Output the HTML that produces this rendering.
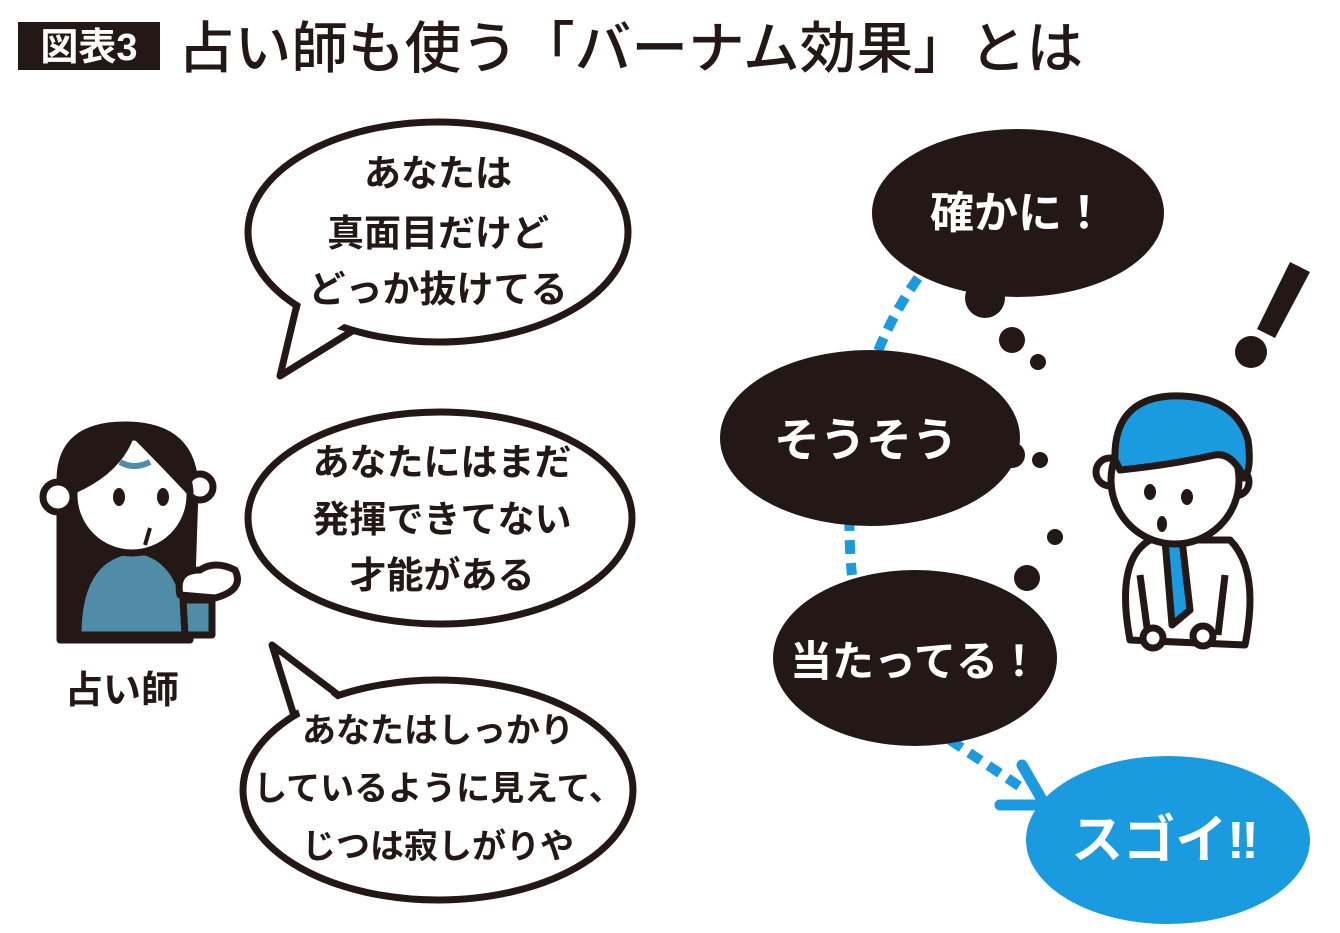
<!DOCTYPE html>
<html><head><meta charset="utf-8"><style>
html,body{margin:0;padding:0;background:#fff;}
svg{display:block;font-family:"Liberation Sans","Noto Sans CJK JP",sans-serif;}
</style></head><body>
<svg width="1340" height="933" viewBox="0 0 1340 933" xmlns="http://www.w3.org/2000/svg">
<rect x="18" y="22" width="142" height="48" fill="#231815"/>
<text x="89" y="60" font-size="38" font-weight="bold" fill="#fff" text-anchor="middle">図表3</text>
<text x="178" y="68" font-size="56" fill="#231815" font-weight="500" textLength="905" lengthAdjust="spacingAndGlyphs">占い師も使う「バーナム効果」とは</text>

<!-- dashed blue path -->
<path d="M918,278 Q860,360 850,470 Q848,540 852,575" fill="none" stroke="#1a9be0" stroke-width="10" stroke-dasharray="14,9"/>
<path d="M950,740 L1025,790" fill="none" stroke="#1a9be0" stroke-width="10" stroke-dasharray="14,9"/>
<path d="M1045,805 L1022,765 M1045,805 L1000,805" stroke="#1a9be0" stroke-width="11" stroke-linecap="round" fill="none"/>

<!-- white bubbles -->
<g fill="#fff" stroke="#231815" stroke-width="7" stroke-linejoin="round">
<polygon points="298,300 280,376 370,320"/>
<ellipse cx="438" cy="232" rx="190" ry="110"/>
<ellipse cx="440" cy="518" rx="192" ry="106"/>
<polygon points="300,735 272,645 345,700"/>
<ellipse cx="438" cy="790" rx="195" ry="110"/>
</g>
<g fill="#fff">
<polygon points="303,295 287,362 362,312"/>
<polygon points="305,730 280,655 338,700"/>
</g>
<g font-size="37" font-weight="bold" fill="#231815" text-anchor="middle">
<text x="438" y="186">あなたは</text>
<text x="438" y="246">真面目だけど</text>
<text x="438" y="302">どっか抜けてる</text>
<text x="442" y="475">あなたにはまだ</text>
<text x="442" y="532">発揮できてない</text>
<text x="442" y="588">才能がある</text>
</g>
<g font-size="34" font-weight="bold" fill="#231815" text-anchor="middle">
<text x="438" y="742">あなたはしっかり</text>
<text x="438" y="800">しているように見えて、</text>
<text x="438" y="858">じつは寂しがりや</text>
</g>

<!-- black bubbles -->
<g fill="#231815">
<ellipse cx="1018" cy="213" rx="146" ry="84"/>
<circle cx="985" cy="298" r="20"/>
<circle cx="1012" cy="340" r="13"/>
<circle cx="1038" cy="362" r="8"/>
<ellipse cx="870" cy="438" rx="150" ry="88"/>
<circle cx="1012" cy="455" r="13"/>
<circle cx="1040" cy="460" r="8"/>
<circle cx="1055" cy="537" r="8"/>
<ellipse cx="915" cy="658" rx="142" ry="88"/>
<circle cx="1027" cy="578" r="13"/>
</g>
<ellipse cx="1168" cy="840" rx="142" ry="84" fill="#1a9be0"/>
<g font-weight="bold" fill="#fff" text-anchor="middle">
<text x="1018" y="228" font-size="44">確かに！</text>
<text x="866" y="456" font-size="46">そうそう</text>
<text x="915" y="676" font-size="42">当たってる！</text>
<text x="1165" y="858" font-size="52">スゴイ‼</text>
</g>

<!-- exclamation -->
<polygon points="1290,262 1310,272 1275,338 1257,329" fill="#231815"/>
<circle cx="1251" cy="352" r="16" fill="#231815"/>

<!-- fortune teller -->
<g stroke="#231815" stroke-width="7" stroke-linejoin="round">
<path d="M60,640 L60,480 Q60,425 125,425 Q195,425 195,490 L190,640 Z" fill="#231815"/>
<circle cx="58" cy="497" r="15" fill="#fff"/>
<circle cx="200" cy="487" r="13" fill="#fff"/>
<path d="M78,635 Q78,555 135,550 Q185,555 190,635 Z" fill="#4f8ca7"/>
<circle cx="132" cy="495" r="58" fill="#fff"/>
<path d="M74,490 Q80,435 132,432 Q120,470 74,490 Z" fill="#231815"/>
<path d="M132,432 Q185,440 190,492 Q160,460 132,432 Z" fill="#231815"/>
<path d="M183,600 L185,635 L212,635 L212,600 Z" fill="#4f8ca7"/>
<path d="M180,595 Q175,570 200,570 Q215,560 235,570 Q245,590 215,598 Z" fill="#fff"/>
</g>
<path d="M120,462 Q134,470 150,462" stroke="#4f8ca7" stroke-width="6" fill="none"/>
<ellipse cx="119" cy="497" rx="6" ry="9" fill="#231815"/>
<ellipse cx="163" cy="497" rx="6" ry="9" fill="#231815"/>
<path d="M150,528 L145,545" stroke="#231815" stroke-width="4"/>
<text x="122" y="703" font-size="38" font-weight="bold" fill="#231815" text-anchor="middle">占い師</text>

<!-- man -->
<g stroke="#231815" stroke-width="7" stroke-linejoin="round">
<path d="M1130,640 Q1115,560 1150,540 L1230,540 Q1260,570 1245,645 Z" fill="#fff"/>
<path d="M1165,540 L1172,625 L1190,610 L1182,540 Z" fill="#1a9be0"/>
<path d="M1140,575 L1148,635 M1225,575 L1218,635" fill="none"/>
<circle cx="1153" cy="638" r="10" fill="#fff"/>
<circle cx="1203" cy="636" r="10" fill="#fff"/>
<circle cx="1110" cy="472" r="14" fill="#fff"/>
<circle cx="1235" cy="482" r="14" fill="#fff"/>
<circle cx="1175" cy="480" r="64" fill="#fff"/>
<path d="M1115,460 Q1113,400 1170,396 Q1235,394 1248,440 Q1252,470 1244,478 Q1232,452 1215,455 Q1170,465 1120,470 Z" fill="#1a9be0"/>
</g>
<ellipse cx="1150" cy="492" rx="6" ry="8" fill="#231815"/>
<ellipse cx="1187" cy="497" rx="6" ry="8" fill="#231815"/>
<ellipse cx="1162" cy="524" rx="5" ry="8" fill="#231815"/>
</svg>
</body></html>
